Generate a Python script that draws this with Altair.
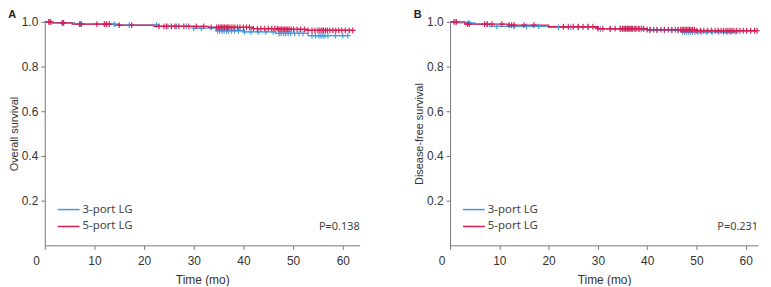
import altair as alt
import pandas as pd

# ---------------- data ----------------
groups = ["3-port LG", "5-port LG"]
colors = ["#3d9be0", "#d81b52"]
x_ticks = [0, 10, 20, 30, 40, 50, 60]
y_ticks = [0.2, 0.4, 0.6, 0.8, 1.0]

# Panel A: overall survival
A_blue_times = [1.5, 6.0, 15.0, 23.0, 30.0, 34.5, 40.0, 46.5, 53.0]
A_blue_surv = [0.995, 0.990, 0.985, 0.980, 0.972, 0.960, 0.955, 0.948, 0.938]
A_blue_cens = [1.0, 3.6, 7.2, 12.5, 14.0, 17.0, 22.5, 24.8, 26.5, 28.5, 30.0, 31.5,
               34.8, 35.2, 35.7, 36.1, 36.6, 37.0, 37.6, 38.2, 39.0, 40.2, 41.5, 43.0,
               44.5, 46.0, 47.2, 47.6, 48.1, 48.5, 49.0, 49.5, 50.3, 51.2, 52.0, 53.8,
               54.5, 55.2, 55.6, 56.0, 56.4, 57.0, 58.5, 60.0, 61.0]
A_red_times = [1.5, 5.5, 14.0, 22.0, 33.0, 42.0, 47.0, 53.0]
A_red_surv = [0.995, 0.990, 0.985, 0.980, 0.975, 0.970, 0.966, 0.962]
A_red_cens = [0.8, 1.2, 3.5, 3.8, 7.0, 7.4, 10.5, 12.0, 12.4, 13.0, 15.0, 17.5, 23.0,
              24.0, 24.5, 25.5, 26.2, 27.0, 28.0, 29.0, 30.5, 32.0, 33.5, 34.6, 35.0,
              35.3, 35.6, 35.9, 36.2, 36.5, 36.8, 37.1, 37.5, 37.9, 38.3, 38.8, 39.3,
              40.0, 40.6, 41.2, 42.0, 42.8, 43.5, 44.3, 45.0, 45.7, 46.3, 46.8, 47.1,
              47.4, 47.7, 48.0, 48.3, 48.6, 48.9, 49.2, 49.6, 50.1, 50.8, 51.5, 52.3,
              53.0, 53.8, 54.4, 55.0, 55.4, 55.8, 56.1, 56.5, 56.9, 57.4, 58.0, 58.6,
              59.2, 59.8, 60.5, 61.3, 62.0]
A_pval = "P=0.138"

# Panel B: disease-free survival
B_blue_times = [1.5, 5.0, 8.0, 20.0, 30.0, 40.0, 47.0]
B_blue_surv = [0.995, 0.990, 0.980, 0.975, 0.968, 0.962, 0.955]
B_blue_cens = [1.0, 3.8, 7.6, 9.5, 13.0, 15.5, 18.0, 22.0, 24.5, 26.0, 28.0, 30.5, 32.5,
               34.6, 35.0, 35.5, 36.0, 36.5, 37.0, 37.6, 38.4, 39.2, 40.5, 42.0, 43.5,
               45.0, 46.2, 47.2, 47.6, 48.0, 48.4, 48.8, 49.2, 49.7, 50.3, 51.0, 52.0,
               53.2, 54.5, 55.5, 56.2, 57.0, 58.0]
B_red_times = [3.0, 12.0, 20.0, 30.0, 40.0, 50.0]
B_red_surv = [0.990, 0.985, 0.978, 0.970, 0.965, 0.960]
B_red_cens = [0.8, 1.3, 3.5, 3.9, 7.0, 7.5, 8.5, 10.5, 12.0, 12.5, 13.0, 15.0, 17.0,
              23.0, 24.0, 25.0, 26.0, 27.0, 28.0, 29.0, 30.0, 31.0, 32.5, 33.5, 34.5,
              35.0, 35.3, 35.6, 35.9, 36.2, 36.5, 36.8, 37.1, 37.5, 37.9, 38.3, 38.8,
              39.3, 40.0, 40.6, 41.3, 42.0, 42.8, 43.5, 44.3, 45.0, 45.7, 46.3, 46.8,
              47.1, 47.4, 47.7, 48.0, 48.3, 48.6, 48.9, 49.2, 49.6, 50.1, 50.8, 51.5,
              52.3, 53.0, 53.8, 54.4, 55.0, 55.5, 56.0, 56.4, 56.8, 57.2, 57.6, 58.2,
              58.8, 59.5, 60.2, 61.0, 61.8, 62.3]
B_pval = "P=0.231"

H = 225
FONT = "Liberation Sans"


def surv_at(t, times, surv):
    s = 1.0
    for tt, ss in zip(times, surv):
        if t >= tt:
            s = ss
    return s


def build_frames(curves):
    line_rows, cens_rows = [], []
    for g, (times, surv, cens) in zip(groups, curves):
        end = max(cens + times)
        xs = [0.0] + times + [end]
        ys = [1.0] + surv + [surv[-1]]
        for x, y in zip(xs, ys):
            line_rows.append({"t": x, "s": y, "group": g})
        for c in cens:
            cens_rows.append({"t": c, "s": surv_at(c, times, surv), "group": g})
    return pd.DataFrame(line_rows), pd.DataFrame(cens_rows)


def panel(letter, ytitle, pval, curves, width, xmax):
    lines, cens = build_frames(curves)
    xenc = alt.X("t:Q",
                 scale=alt.Scale(domain=[0, xmax], nice=False, zero=False),
                 axis=alt.Axis(values=x_ticks, title="Time (mo)", grid=False,
                               labelOffset=alt.ExprRef(expr="datum.value === 0 ? -12 : 0")))
    yenc = alt.Y("s:Q",
                 scale=alt.Scale(domain=[0, 1], nice=False),
                 axis=alt.Axis(values=y_ticks, format=".1f", title=ytitle, grid=False))
    cenc = alt.Color("group:N", scale=alt.Scale(domain=groups, range=colors), legend=None)

    line = alt.Chart(lines).mark_line(interpolate="step-after", strokeWidth=1.3).encode(
        x=xenc, y=yenc, color=cenc, detail="group:N")
    marks = alt.Chart(cens).mark_point(
        shape="M-1,0L1,0M0,-1L0,1", size=34, filled=False, strokeWidth=1.2, opacity=0.95
    ).encode(x="t:Q", y="s:Q", color=cenc)

    layers = [line, marks]
    for i, (g, col) in enumerate(zip(groups, colors)):
        yy = 189 + 17 * i
        ldf = pd.DataFrame({"label": [g]})
        layers.append(alt.Chart(ldf).mark_rule(color=col, strokeWidth=1.5).encode(
            x=alt.value(13), x2=alt.value(35), y=alt.value(yy)))
        layers.append(alt.Chart(ldf).mark_text(
            align="left", baseline="middle", font="Noto Sans", fontSize=11.5, color="#444"
        ).encode(x=alt.value(38), y=alt.value(yy), text="label:N"))
    pdf = pd.DataFrame({"p": [pval]})
    layers.append(alt.Chart(pdf).mark_text(
        align="right", baseline="middle", font="Noto Sans", fontSize=11, color="#444"
    ).encode(x=alt.value(width), y=alt.value(207), text="p:N"))

    return alt.layer(*layers).properties(
        width=width, height=H,
        title=alt.TitleParams(letter, anchor="start", frame="bounds", fontSize=11,
                              fontWeight="bold", font=FONT, offset=-4, color="#222"))


pA = panel("A", "Overall survival", A_pval,
           [(A_blue_times, A_blue_surv, A_blue_cens), (A_red_times, A_red_surv, A_red_cens)],
           317, 63.4)
pB = panel("B", "Disease-free survival", B_pval,
           [(B_blue_times, B_blue_surv, B_blue_cens), (B_red_times, B_red_surv, B_red_cens)],
           310, 62.5)

chart = alt.hconcat(pA, pB, spacing=54).properties(padding=0).configure_view(
    stroke=None
).configure_axis(
    domainColor="#777", tickColor="#777", tickSize=4, labelFont=FONT, labelFontSize=12,
    labelColor="#333", titleFont=FONT, titleFontWeight="normal", titleColor="#333",
    labelPadding=3
).configure_axisY(
    titleFontSize=11, titlePadding=2
).configure_axisX(
    titleFontSize=12, titlePadding=8, labelPadding=6
)

chart.save("out.html", embed_options={"renderer": "svg", "actions": False})
